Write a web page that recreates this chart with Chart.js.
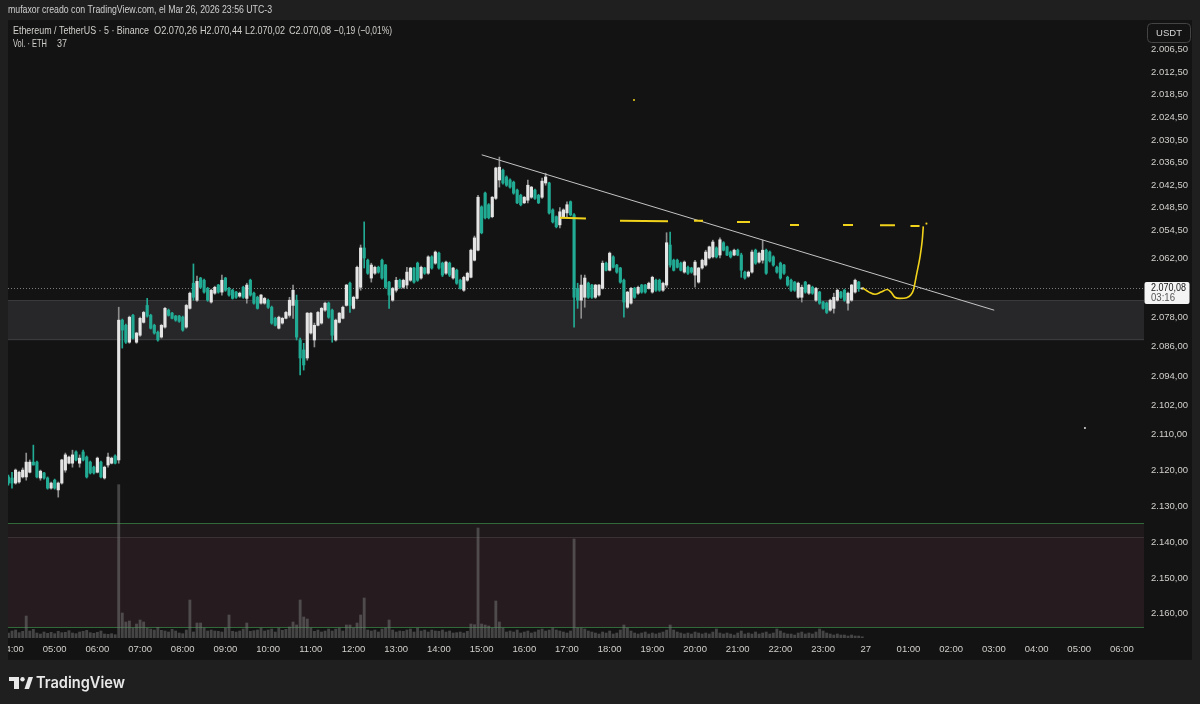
<!DOCTYPE html>
<html lang="es">
<head>
<meta charset="UTF-8">
<title>Ethereum / TetherUS · 5 · Binance</title>
<style>
  body { margin: 0; background: #1f1f1f; }
  canvas { display: block; }
</style>
<script src="https://cdn.jsdelivr.net/npm/chart.js@4"></script>
</head>
<body>
<canvas id="chart" width="1200" height="704"></canvas>
<script>
// time = minutes since 04:00 (Mar 26); first candle is 03:55, 5 min candles
const firstCandle = -5;

const opens = [
  2121.8, 2122.1, 2123.5, 2123.2, 2121.8, 2121.8, 2120.5, 2117.7, 2117.7, 2122.1,
  2120.7, 2122.1, 2124.9, 2122.7, 2125.4, 2123.5, 2119.9, 2118.0, 2118.0, 2114.9,
  2118.0, 2114.9, 2116.3, 2117.7, 2119.1, 2120.5, 2117.7, 2122.1, 2118.5, 2118.0,
  2116.0, 2117.1, 2078.8, 2080.2, 2084.8, 2077.5, 2084.8, 2082.9, 2079.4, 2074.8,
  2077.5, 2080.2, 2082.1, 2083.4, 2080.7, 2076.1, 2076.9, 2077.7, 2077.7, 2078.0,
  2080.7, 2075.6, 2068.8, 2073.4, 2067.4, 2068.0, 2070.2, 2073.9, 2071.5, 2069.3,
  2071.2, 2067.4, 2070.2, 2070.7, 2071.2, 2072.3, 2069.9, 2072.9, 2068.0, 2071.5,
  2072.6, 2074.2, 2074.2, 2073.4, 2075.3, 2078.3, 2081.0, 2079.6, 2078.3, 2077.5,
  2074.8, 2073.4, 2084.2, 2086.9, 2089.1, 2082.3, 2084.2, 2080.2, 2079.6, 2076.1,
  2074.2, 2076.1, 2084.2, 2079.4, 2078.3, 2074.8, 2068.8, 2075.6, 2072.9, 2069.9,
  2059.3, 2062.6, 2067.4, 2066.1, 2064.5, 2062.6, 2063.9, 2068.5, 2073.4, 2070.7,
  2068.0, 2069.9, 2069.3, 2068.0, 2064.7, 2063.4, 2067.4, 2064.7, 2066.1, 2061.7,
  2063.4, 2060.7, 2063.4, 2066.1, 2063.4, 2067.4, 2065.3, 2068.0, 2070.7, 2068.0,
  2067.2, 2062.6, 2059.9, 2048.3, 2044.6, 2047.7, 2050.9, 2046.0, 2041.1, 2038.5,
  2040.3, 2041.1, 2041.7, 2043.8, 2045.2, 2047.2, 2046.5, 2045.7, 2043.8, 2045.2,
  2045.7, 2041.9, 2041.9, 2049.1, 2050.9, 2053.1, 2050.9, 2049.9, 2046.9, 2050.4,
  2070.2, 2073.4, 2072.6, 2068.8, 2069.3, 2072.6, 2072.0, 2070.2, 2063.4, 2065.3,
  2061.7, 2063.9, 2064.7, 2068.0, 2075.3, 2074.2, 2070.2, 2071.5, 2069.3, 2069.3,
  2070.2, 2071.2, 2068.0, 2068.0, 2070.7, 2069.3, 2058.5, 2062.6, 2062.6, 2063.4,
  2065.8, 2064.5, 2064.7, 2066.6, 2068.5, 2064.7, 2063.9, 2062.0, 2061.7, 2059.3,
  2061.2, 2057.9, 2059.0, 2060.4, 2061.2, 2059.9, 2061.2, 2065.8, 2066.9, 2065.8,
  2059.9, 2063.1, 2062.6, 2059.9, 2060.4, 2061.7, 2064.5, 2063.4, 2063.9, 2067.2,
  2068.0, 2068.5, 2072.6, 2072.6, 2068.5, 2071.5, 2069.9, 2073.4, 2071.2, 2073.9,
  2074.2, 2076.1, 2075.6, 2073.4, 2071.2, 2070.7, 2074.2, 2073.4, 2071.2, 2068.5,
  2070.26
];

const highs = [
  2124.1, 2124.9, 2123.8, 2123.5, 2122.1, 2122.7, 2120.7, 2118.5, 2122.1, 2122.7,
  2122.4, 2125.2, 2125.2, 2125.2, 2127.4, 2123.8, 2120.5, 2118.2, 2119.1, 2117.4,
  2119.1, 2117.4, 2122.1, 2121.0, 2121.0, 2120.7, 2122.1, 2122.4, 2119.1, 2118.2,
  2118.2, 2118.0, 2086.4, 2085.1, 2085.1, 2083.9, 2085.1, 2083.2, 2079.6, 2078.0,
  2081.2, 2082.6, 2084.5, 2083.7, 2081.0, 2077.7, 2078.5, 2079.1, 2079.4, 2081.8,
  2081.0, 2075.8, 2073.4, 2073.7, 2070.2, 2071.5, 2073.7, 2074.2, 2071.8, 2071.5,
  2072.0, 2071.0, 2072.3, 2073.1, 2072.9, 2072.6, 2072.9, 2074.2, 2072.3, 2074.5,
  2075.8, 2074.5, 2074.5, 2075.6, 2079.9, 2080.4, 2081.2, 2079.9, 2078.5, 2078.0,
  2078.3, 2084.2, 2093.7, 2092.4, 2089.7, 2082.6, 2086.1, 2080.4, 2079.9, 2076.4,
  2078.3, 2084.8, 2084.5, 2079.6, 2078.5, 2075.0, 2076.7, 2075.8, 2073.1, 2070.7,
  2064.7, 2066.4, 2068.5, 2066.4, 2066.1, 2067.7, 2070.2, 2075.6, 2073.7, 2071.2,
  2070.2, 2070.2, 2070.2, 2068.3, 2068.8, 2068.3, 2067.7, 2066.4, 2066.4, 2065.0,
  2063.7, 2065.0, 2067.0, 2066.4, 2067.0, 2067.7, 2069.1, 2070.4, 2071.0, 2068.3,
  2067.4, 2062.8, 2060.1, 2055.5, 2051.5, 2051.5, 2051.2, 2046.3, 2043.0, 2042.2,
  2042.8, 2043.3, 2044.9, 2047.4, 2048.0, 2047.4, 2047.2, 2046.0, 2046.3, 2047.4,
  2046.0, 2042.5, 2050.2, 2052.6, 2053.9, 2053.9, 2051.2, 2051.2, 2050.7, 2080.7,
  2075.6, 2078.3, 2075.3, 2072.9, 2072.9, 2072.9, 2072.3, 2070.4, 2065.5, 2065.5,
  2064.7, 2066.1, 2068.8, 2078.0, 2075.6, 2074.5, 2072.9, 2071.8, 2071.5, 2071.5,
  2070.4, 2071.5, 2071.0, 2071.0, 2071.0, 2069.9, 2064.5, 2065.5, 2064.7, 2065.5,
  2066.1, 2066.4, 2066.1, 2069.9, 2068.8, 2065.0, 2064.2, 2062.3, 2062.0, 2062.0,
  2062.0, 2060.1, 2061.4, 2062.0, 2061.4, 2061.4, 2067.2, 2067.7, 2067.2, 2066.1,
  2063.7, 2063.4, 2063.4, 2066.4, 2063.1, 2064.2, 2066.1, 2067.7, 2066.4, 2069.6,
  2071.0, 2071.0, 2072.9, 2073.9, 2071.5, 2071.8, 2071.8, 2073.7, 2074.5, 2075.8,
  2077.0, 2076.4, 2076.9, 2073.7, 2072.9, 2073.7, 2076.1, 2073.7, 2071.5, 2071.0,
  2070.44
];

const lows = [
  2121.3, 2120.5, 2119.6, 2120.2, 2119.3, 2115.2, 2117.1, 2113.0, 2117.4, 2119.9,
  2120.5, 2121.8, 2123.2, 2122.4, 2123.2, 2116.9, 2115.2, 2116.0, 2114.4, 2114.6,
  2115.7, 2114.4, 2116.0, 2117.4, 2118.8, 2116.3, 2117.4, 2118.8, 2115.2, 2116.3,
  2115.7, 2075.3, 2078.5, 2079.9, 2077.7, 2077.2, 2082.1, 2078.0, 2076.4, 2072.9,
  2077.2, 2079.9, 2081.8, 2079.9, 2075.3, 2075.8, 2076.7, 2077.5, 2077.5, 2077.7,
  2074.5, 2071.2, 2063.6, 2066.9, 2067.2, 2067.7, 2069.9, 2070.4, 2069.6, 2069.1,
  2066.6, 2067.2, 2069.9, 2070.4, 2071.0, 2071.2, 2069.6, 2068.8, 2067.7, 2071.2,
  2072.3, 2071.8, 2072.6, 2073.1, 2075.0, 2078.0, 2077.7, 2078.0, 2076.4, 2072.6,
  2069.3, 2072.0, 2083.7, 2085.1, 2076.7, 2076.7, 2079.6, 2076.4, 2075.3, 2073.9,
  2073.9, 2075.8, 2078.5, 2076.7, 2075.0, 2069.1, 2068.5, 2072.3, 2064.2, 2058.5,
  2052.3, 2062.3, 2063.4, 2064.2, 2064.2, 2062.3, 2063.7, 2068.3, 2069.9, 2067.2,
  2067.7, 2067.7, 2064.5, 2064.5, 2064.5, 2063.1, 2064.2, 2064.5, 2061.4, 2061.4,
  2060.1, 2060.4, 2063.1, 2062.8, 2063.1, 2064.5, 2065.0, 2067.7, 2066.9, 2065.8,
  2059.6, 2056.1, 2045.2, 2048.0, 2044.3, 2047.4, 2045.5, 2037.7, 2035.0, 2038.2,
  2040.0, 2040.8, 2041.4, 2043.5, 2044.9, 2045.5, 2041.1, 2042.8, 2043.5, 2044.9,
  2040.6, 2039.3, 2041.7, 2048.8, 2050.7, 2048.5, 2048.8, 2046.9, 2046.7, 2050.1,
  2068.8, 2066.6, 2066.6, 2068.5, 2069.1, 2069.1, 2069.1, 2062.8, 2063.1, 2060.4,
  2061.4, 2063.7, 2064.5, 2067.7, 2071.0, 2069.9, 2069.9, 2069.6, 2069.1, 2069.1,
  2068.5, 2066.9, 2067.7, 2067.7, 2068.5, 2055.2, 2055.0, 2062.3, 2062.3, 2063.1,
  2062.8, 2064.2, 2064.5, 2062.6, 2064.5, 2062.3, 2059.9, 2058.8, 2057.2, 2059.0,
  2056.6, 2057.6, 2058.8, 2060.1, 2059.6, 2059.6, 2060.7, 2065.5, 2065.5, 2059.9,
  2059.6, 2060.4, 2057.2, 2059.6, 2060.1, 2061.4, 2064.2, 2063.1, 2063.7, 2066.9,
  2067.7, 2068.3, 2068.5, 2069.3, 2068.3, 2069.1, 2069.6, 2069.9, 2071.0, 2073.7,
  2073.9, 2073.1, 2071.5, 2070.4, 2071.0, 2070.4, 2071.2, 2069.1, 2067.7, 2068.3,
  2070.02
];

const closes = [
  2123.5, 2123.5, 2119.9, 2120.5, 2119.9, 2117.7, 2117.7, 2118.5, 2121.8, 2120.2,
  2122.1, 2124.9, 2123.5, 2124.9, 2123.5, 2117.1, 2115.7, 2116.3, 2115.7, 2117.1,
  2116.6, 2117.1, 2121.8, 2120.7, 2120.7, 2116.6, 2121.8, 2119.1, 2116.3, 2116.6,
  2118.0, 2078.8, 2081.5, 2084.8, 2078.0, 2083.7, 2082.3, 2078.3, 2076.7, 2077.7,
  2081.0, 2082.3, 2084.2, 2080.2, 2075.6, 2077.5, 2078.3, 2078.8, 2079.1, 2081.5,
  2074.8, 2071.5, 2072.6, 2068.3, 2069.9, 2071.2, 2073.4, 2070.7, 2069.9, 2071.2,
  2068.0, 2070.7, 2072.0, 2072.9, 2072.6, 2071.5, 2072.6, 2069.3, 2072.0, 2074.2,
  2075.6, 2072.0, 2072.9, 2075.3, 2079.6, 2080.2, 2078.0, 2078.3, 2076.7, 2073.4,
  2070.7, 2083.4, 2089.1, 2091.0, 2076.9, 2076.9, 2080.2, 2076.7, 2075.6, 2074.2,
  2078.0, 2082.9, 2078.8, 2076.9, 2075.3, 2069.3, 2074.8, 2072.6, 2064.5, 2059.3,
  2062.0, 2066.1, 2063.9, 2064.5, 2065.8, 2067.4, 2069.9, 2072.0, 2070.2, 2068.0,
  2069.9, 2068.0, 2065.8, 2064.7, 2068.5, 2068.0, 2064.5, 2066.1, 2061.7, 2064.7,
  2060.4, 2064.7, 2066.6, 2063.1, 2066.6, 2064.7, 2068.8, 2070.2, 2067.2, 2066.1,
  2059.9, 2056.6, 2045.7, 2055.2, 2051.2, 2051.2, 2045.7, 2037.9, 2037.7, 2041.9,
  2042.5, 2043.0, 2044.6, 2047.2, 2047.7, 2045.7, 2042.5, 2043.0, 2046.0, 2047.2,
  2041.4, 2040.3, 2049.9, 2052.3, 2053.6, 2049.6, 2049.1, 2047.7, 2050.4, 2072.6,
  2073.4, 2069.3, 2067.4, 2072.6, 2072.6, 2069.3, 2069.3, 2063.4, 2065.3, 2060.7,
  2064.5, 2065.8, 2068.5, 2073.9, 2071.2, 2070.2, 2072.6, 2069.9, 2071.2, 2071.2,
  2068.8, 2067.2, 2070.7, 2070.7, 2068.8, 2057.9, 2063.9, 2065.3, 2064.5, 2065.3,
  2063.1, 2066.1, 2065.8, 2063.1, 2064.7, 2062.6, 2060.4, 2059.0, 2057.7, 2061.7,
  2057.1, 2059.9, 2061.2, 2061.7, 2059.9, 2061.2, 2065.3, 2067.4, 2065.8, 2060.4,
  2063.4, 2060.7, 2059.9, 2066.1, 2062.8, 2063.9, 2065.8, 2067.4, 2066.1, 2069.3,
  2070.7, 2070.7, 2068.8, 2069.9, 2071.2, 2069.3, 2071.5, 2070.2, 2074.2, 2075.6,
  2076.7, 2073.4, 2072.6, 2070.7, 2072.6, 2073.4, 2071.5, 2069.3, 2068.0, 2070.27,
  2070.08
];

// volume in ETH
const volumes = [
  150, 210, 240, 160, 200, 660, 210, 260, 150, 120,
  180, 140, 170, 130, 200, 160, 170, 220, 150, 130,
  180, 200, 230, 160, 140, 170, 210, 120, 110, 130,
  100, 4600, 750, 480, 510, 300, 420, 540, 480, 300,
  270, 240, 320, 230, 210, 180, 260, 210, 150, 130,
  240, 1140, 180, 450, 450, 300, 210, 240, 210, 200,
  180, 300, 690, 200, 180, 210, 270, 450, 200, 220,
  240, 300, 210, 240, 270, 180, 300, 230, 260, 330,
  480, 390, 1140, 630, 570, 300, 200, 240, 180, 210,
  270, 210, 270, 300, 210, 390, 390, 300, 450, 690,
  1200, 240, 210, 240, 180, 270, 300, 540, 240, 180,
  210, 200, 240, 270, 180, 300, 210, 240, 180, 240,
  210, 200, 240, 180, 210, 150, 160, 180, 150, 200,
  420, 400, 3300, 420, 390, 360, 300, 1110, 480, 300,
  180, 210, 180, 240, 150, 180, 210, 150, 180, 240,
  270, 210, 240, 300, 240, 210, 180, 150, 210, 2970,
  300, 300, 270, 210, 180, 150, 120, 180, 150, 210,
  120, 150, 240, 390, 300, 210, 150, 120, 150, 180,
  120, 150, 120, 150, 180, 240, 390, 240, 180, 150,
  120, 150, 120, 180, 150, 120, 150, 120, 180, 270,
  150, 120, 150, 120, 90, 150, 210, 120, 150, 120,
  180, 120, 150, 180, 120, 150, 270, 210, 150, 120,
  120, 90, 150, 180, 120, 150, 120, 180, 270, 210,
  150, 120, 90, 120, 90, 90, 60, 90, 60, 60,
  37
];

const hourLabels = ['04:00', '05:00', '06:00', '07:00', '08:00', '09:00', '10:00', '11:00', '12:00',
  '13:00', '14:00', '15:00', '16:00', '17:00', '18:00', '19:00', '20:00', '21:00', '22:00', '23:00',
  '27', '01:00', '02:00', '03:00', '04:00', '05:00', '06:00'];
const hourTicks = hourLabels.map((_, i) => i * 60);

const priceTicks = [2006.5, 2012.5, 2018.5, 2024.5, 2030.5, 2036.5, 2042.5, 2048.5, 2054.5,
  2062, 2078, 2086, 2094, 2102, 2110, 2120, 2130, 2140, 2150, 2160];

// drawings (time in minutes, price)
const supportZone = [2073.4, 2084.3];
const lowerZone = [2134.6, 2138.4, 2163.8];
const trendLine = [[660.2, 2034.4], [1380.5, 2076.1]];
const yellowSolid = [[770.2, 2051.2], [806.7, 2051.4]];
const yellowDashes = [
  [[854.5, 2052.0], [922.0, 2052.1]],
  [[958.5, 2052.0], [971.2, 2052.0]],
  [[1019.0, 2052.3], [1037.2, 2052.3]],
  [[1093.5, 2053.1], [1106.1, 2053.1]],
  [[1168.0, 2053.1], [1182.0, 2053.1]],
  [[1220.0, 2053.2], [1241.0, 2053.2]],
  [[1262.8, 2053.4], [1275.5, 2053.4]],
  [[1284.0, 2052.8], [1286.5, 2052.7]]
];
const yellowPath = [[1195.6, 2070.1], [1204.5, 2071.2], [1212.9, 2071.8], [1221.4, 2071.2],
  [1230.2, 2070.5], [1235.4, 2071.2], [1240.9, 2072.6], [1247.9, 2072.9], [1257.5, 2072.7],
  [1263.5, 2071.9], [1266.8, 2070.7], [1271.6, 2066.2], [1276.2, 2061.7], [1279.4, 2057.1],
  [1280.8, 2053.5]];
const yellowDot = [[874.2, 2019.9]];
const whiteDot = [[1508, 2108.3]];

const UP = '#22ab94';
const DOWN = '#e4e4e4';
const DOWN_WICK = '#8e8e8e';
const TEXT = '#d2d0cc';

const times = opens.map((_, i) => firstCandle + i * 5);
const last = closes.length - 1;
const isUp = i => closes[i] >= opens[i];

function fmt(v) {
  const s = Math.abs(v).toFixed(2).split('.');
  return (v < 0 ? '\u2212' : '') + s[0].replace(/\B(?=(\d{3})+(?!\d))/g, '.') + ',' + s[1];
}

const pts = arr => arr.map(([x, y]) => ({ x, y }));
const dashData = [];
yellowDashes.forEach(seg => {
  dashData.push(...pts(seg));
  dashData.push({ x: seg[1][0] + 0.1, y: null });
});

const overlay = {
  id: 'overlay',
  beforeDraw(chart) {
    const { ctx, chartArea: a } = chart;
    const y = chart.scales.y;
    const w = a.right - a.left;
    ctx.save();
    ctx.fillStyle = '#1f1f1f';
    ctx.fillRect(0, 0, chart.width, chart.height);
    ctx.fillStyle = '#131313';
    ctx.fillRect(8, 20, 1184, 640);

    // grey zone
    const z0 = y.getPixelForValue(supportZone[0]);
    const z1 = y.getPixelForValue(supportZone[1]);
    ctx.fillStyle = '#27272a';
    ctx.fillRect(a.left, z0, w, z1 - z0);
    ctx.fillStyle = '#3a3a3d';
    ctx.fillRect(a.left, Math.round(z0), w, 1);
    ctx.fillRect(a.left, Math.round(z1) - 1, w, 1);

    // lower zone
    const r0 = y.getPixelForValue(lowerZone[0]);
    const r1 = y.getPixelForValue(lowerZone[1]);
    const r2 = y.getPixelForValue(lowerZone[2]);
    ctx.fillStyle = '#1f191b';
    ctx.fillRect(a.left, r0, w, r1 - r0);
    ctx.fillStyle = '#261c20';
    ctx.fillRect(a.left, r1, w, r2 - r1);
    ctx.fillStyle = '#3b3035';
    ctx.fillRect(a.left, Math.round(r1), w, 1);
    ctx.fillStyle = '#31693b';
    ctx.fillRect(a.left, Math.round(r0), w, 1);
    ctx.fillRect(a.left, Math.round(r2), w, 1);

    // last price line
    const ly = Math.round(y.getPixelForValue(closes[last])) + 0.5;
    ctx.strokeStyle = '#7c7c7c';
    ctx.lineWidth = 1;
    ctx.setLineDash([1, 2]);
    ctx.beginPath();
    ctx.moveTo(a.left, ly);
    ctx.lineTo(a.right, ly);
    ctx.stroke();
    ctx.restore();
  },
  afterDraw(chart) {
    const { ctx } = chart;
    const y = chart.scales.y;
    ctx.save();
    // left frame strip (clips first time label)
    ctx.fillStyle = '#1f1f1f';
    ctx.fillRect(0, 20, 8, 640);

    // header
    ctx.textBaseline = 'middle';
    ctx.textAlign = 'left';
    ctx.fillStyle = '#cfcfcf';
    ctx.font = '11px "Liberation Sans"';
    ctx.fillText('mufaxor creado con TradingView.com, el Mar 26, 2026 23:56 UTC-3', 8, 10, 264);

    // legend
    ctx.fillStyle = TEXT;
    ctx.font = '11.5px "Liberation Sans"';
    ctx.fillText('Ethereum / TetherUS \u00b7 5 \u00b7 Binance', 13, 31, 136);
    const chg = closes[last] - closes[last - 1];
    ctx.fillText('O' + fmt(opens[last]), 154, 31, 43);
    ctx.fillText('H' + fmt(highs[last]), 200, 31, 42);
    ctx.fillText('L' + fmt(lows[last]), 245, 31, 40);
    ctx.fillText('C' + fmt(closes[last]), 289, 31, 42);
    ctx.fillText(fmt(chg) + ' (' + fmt(chg / closes[last - 1] * 100) + '%)', 334, 31, 58);
    ctx.fillText('Vol. \u00b7 ETH', 13, 44, 34);
    ctx.fillText(String(volumes[last]), 57, 44, 10);

    // USDT box
    ctx.strokeStyle = '#444';
    ctx.lineWidth = 1;
    ctx.beginPath();
    ctx.roundRect(1147.5, 23.5, 43, 19, 4);
    ctx.stroke();
    ctx.fillStyle = '#d6d6d6';
    ctx.font = '9.5px "Liberation Sans"';
    ctx.textAlign = 'center';
    ctx.fillText('USDT', 1169, 33.5);

    // last price label
    const py = y.getPixelForValue(closes[last]);
    ctx.fillStyle = '#f4f4f4';
    ctx.beginPath();
    ctx.roundRect(1144.5, py - 6, 45, 22, 2);
    ctx.fill();
    ctx.textAlign = 'left';
    ctx.fillStyle = '#131313';
    ctx.font = '10.5px "Liberation Sans"';
    ctx.fillText(fmt(closes[last]), 1151, py + 0.5, 35);
    ctx.fillStyle = '#555';
    ctx.fillText('03:16', 1151, py + 10.5, 24);

    // TradingView logo
    ctx.fillStyle = '#e8e8e8';
    ctx.fillRect(9, 677, 10, 4);
    ctx.fillRect(14, 677, 5, 12);
    ctx.beginPath();
    ctx.arc(22.5, 679.2, 2.2, 0, Math.PI * 2);
    ctx.fill();
    ctx.beginPath();
    ctx.moveTo(24.5, 689);
    ctx.lineTo(29, 689);
    ctx.lineTo(33, 677);
    ctx.lineTo(28.5, 677);
    ctx.closePath();
    ctx.fill();
    ctx.font = '600 16px Inter';
    ctx.textBaseline = 'middle';
    ctx.fillText('TradingView', 36, 683.5, 89);
    ctx.restore();
  }
};

new Chart(document.getElementById('chart'), {
  type: 'bar',
  data: {
    datasets: [
      {
        type: 'line', data: pts(trendLine), borderColor: '#c4c4c4', borderWidth: 1,
        pointRadius: 0, order: 2
      },
      {
        type: 'line', data: pts(yellowSolid), borderColor: '#f2d31b', borderWidth: 2,
        pointRadius: 0, order: 1
      },
      {
        type: 'line', data: dashData, borderColor: '#f2d31b', borderWidth: 2,
        pointRadius: 0, spanGaps: false, order: 1
      },
      {
        type: 'line', data: pts(yellowPath), borderColor: '#f2d31b', borderWidth: 1.6,
        pointRadius: 0, cubicInterpolationMode: 'monotone', order: 1
      },
      {
        type: 'line', data: pts(yellowDot), showLine: false, pointRadius: 1,
        pointBackgroundColor: '#f2d31b', pointBorderWidth: 0, order: 0
      },
      {
        type: 'line', data: pts(whiteDot), showLine: false, pointRadius: 1,
        pointBackgroundColor: '#e0e0e0', pointBorderWidth: 0, order: 0
      },
      {
        data: times.map((t, i) => ({ x: t, y: [opens[i], closes[i]] })),
        backgroundColor: c => isUp(c.dataIndex) ? UP : DOWN,
        barThickness: 2.5, minBarLength: 1, grouped: false, order: 3
      },
      {
        data: times.map((t, i) => ({ x: t, y: [lows[i], highs[i]] })),
        backgroundColor: c => isUp(c.dataIndex) ? UP : DOWN_WICK,
        barThickness: 1, grouped: false, order: 4
      },
      {
        data: times.map((t, i) => ({ x: t, y: volumes[i] })),
        yAxisID: 'vol', backgroundColor: 'rgba(120,120,120,0.5)',
        barThickness: 2.2, grouped: false, order: 5
      }
    ]
  },
  options: {
    responsive: false,
    animation: false,
    devicePixelRatio: 1,
    layout: { padding: { left: 8, top: 20, right: 8, bottom: 44 } },
    plugins: { legend: { display: false }, tooltip: { enabled: false } },
    scales: {
      x: {
        type: 'linear', min: -5.62, max: 1591, offset: false, bounds: 'data',
        grid: { display: false, drawTicks: false }, border: { display: false },
        afterBuildTicks: s => { s.ticks = hourTicks.map(v => ({ value: v })); },
        afterFit: s => { s.height = 22; s.paddingLeft = 0; s.paddingRight = 0; },
        ticks: {
          autoSkip: false, maxRotation: 0, minRotation: 0, padding: 6, color: TEXT,
          font: { family: 'Liberation Sans', size: 9.5 },
          callback: (v, i) => hourLabels[i]
        }
      },
      y: {
        type: 'logarithmic', position: 'right', reverse: true, min: 1998.9, max: 2166.9, bounds: 'data',
        grid: { display: false, drawTicks: false }, border: { display: false },
        afterBuildTicks: s => { s.ticks = priceTicks.map(v => ({ value: v })); },
        afterFit: s => { s.width = 48; s.paddingTop = 0; s.paddingBottom = 0; },
        ticks: {
          autoSkip: false, padding: 7, color: TEXT,
          font: { family: 'Liberation Sans', size: 9.5 },
          callback: v => fmt(v)
        }
      },
      vol: { axis: 'y', type: 'linear', display: false, min: 0, max: 18540 }
    }
  },
  plugins: [overlay]
});
</script>
</body>
</html>
